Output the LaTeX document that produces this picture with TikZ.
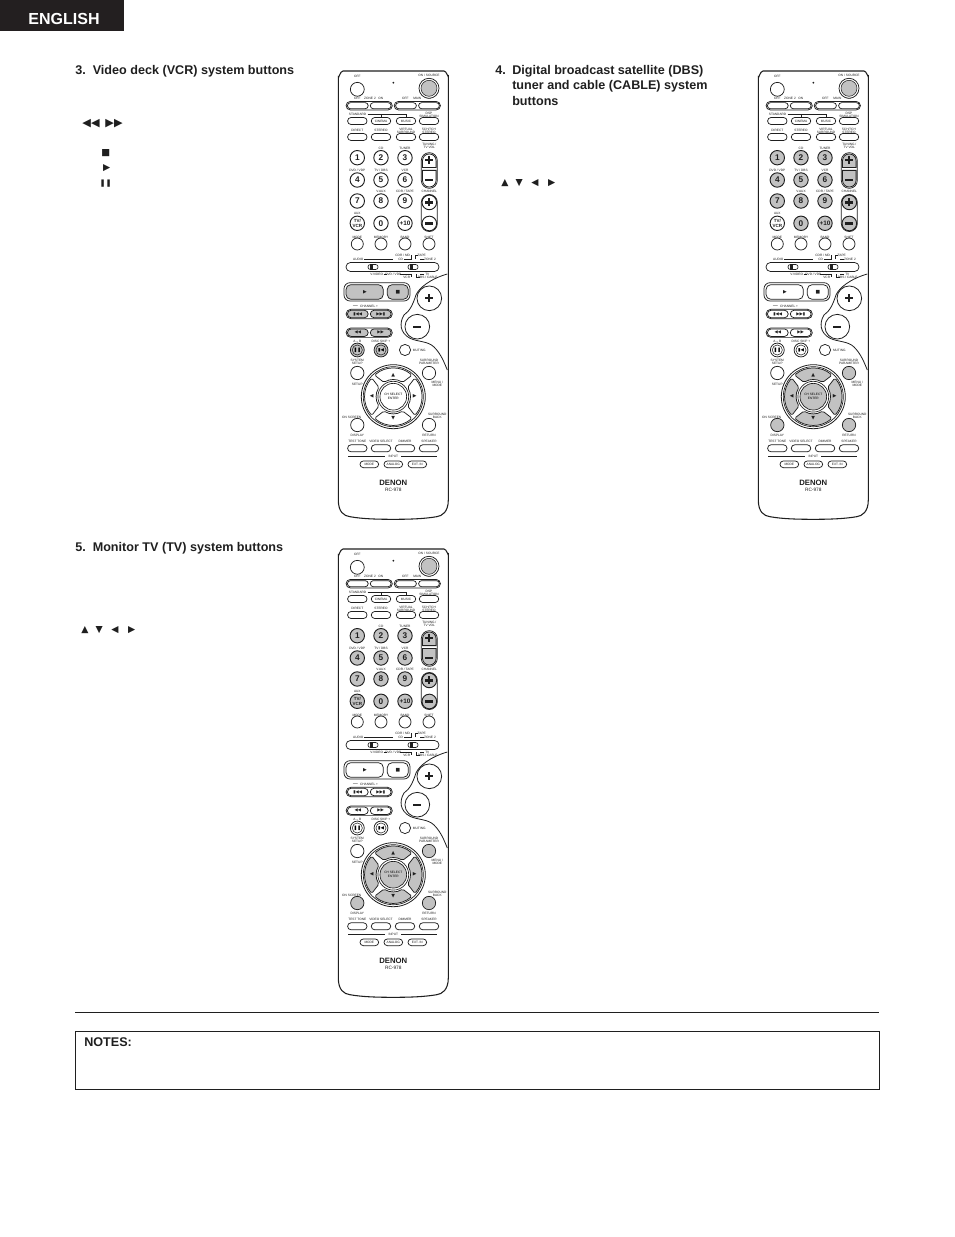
\documentclass[tikz,border=0pt]{standalone}
\usepackage{fontspec}
\setmainfont{Liberation Sans}
\newfontfamily\symfont{DejaVu Sans}
\usetikzlibrary{shapes.misc}
\newcommand{\tinylab}{\fontsize{2.4}{2.8}\selectfont}
\newcommand{\headfont}{\fontsize{9.45}{11.6}\selectfont\bfseries}
\colorlet{ink}{black!88}
\colorlet{shade}{black!24}
\definecolor{tabcol}{HTML}{231F20}
\tikzset{
    lab/.style={font=\tinylab,inner sep=0,text=ink},
    head/.style={font=\headfont,inner sep=0,anchor=base west,text=ink},
    glyph/.style={font=\symfont\fontsize{7}{7}\selectfont,inner sep=0,text=ink},
    mini/.style={font=\symfont\fontsize{3.6}{4}\selectfont,inner sep=0,text=ink},
    pill/.style={rounded rectangle,draw=ink,line width=.55pt,fill=white,inner sep=0,minimum width=14.6pt,minimum height=5.3pt,font=\tinylab,text=ink},
    keyb/.style={circle,draw=ink,line width=.7pt,fill=white,inner sep=0,minimum size=10.8pt,text=ink},
    knob/.style={circle,draw=ink,line width=.55pt,fill=white,inner sep=0,minimum size=10.4pt},
    sign/.style={line width=1.7pt,ink}
}
\newcommand{\remote}[3]{
    \begin{scope}[shift={(#2,#3)},name prefix=#1-]
        \draw[ink,line width=.8pt,fill=white] (0.3,6) to[out=-90,in=180] (5,0) -- (106,0) to[out=0,in=-90] (110.3,5)
            -- (110.3,429) .. controls (110.3,441) and (104,445) .. (98.7,445.7)
            .. controls (85,448) and (70,448.3) .. (55.3,448.3)
            .. controls (40,448.3) and (25,448) .. (12,445.7)
            .. controls (6,445) and (0.3,441) .. (0.3,429) -- cycle;
        \draw[ink,line width=.6pt] (109.3,203) .. controls (92,208) and (81,217) .. (78,224)
            .. controls (75,233) and (72,240) .. (66,244)
            .. controls (61,252) and (62,262) .. (72,267.3)
            .. controls (80,271) and (90,270) .. (96,276)
            .. controls (103,283) and (106,291) .. (109.3,299);
        \foreach \lx/\ly/\lt [count=\li] in {
            19.3/5.7/OFF,91/4.7/{ON / SOURCE},
            19.3/27.3/OFF,32/27.3/ZONE 2,42.7/27.3/ON,67.3/27.3/OFF,79.3/27.3/MAIN,91/27.3/ON,
            91/42.7/DSP,91/45.7/SIMULATION,
            19.3/59.7/DIRECT,43/59.7/STEREO,68/58.3/VIRTUAL,68/61/SURROUND,91/58.3/{5CH/7CH},91/61/STEREO,
            43/77.3/CD,67/77.3/TUNER,91.3/73/{TUNING /},91.3/76.3/TV VOL,
            19.3/99.3/{DVD / VDP},43/99.3/{TV / DBS},67/99.3/VCR,
            43/120.7/V.AUX,67/120.7/{CDR / TAPE},91.3/120.7/CHANNEL,19.3/142.7/AUX,
            19.3/166/MODE,43/166/MEMORY,67/166/BAND,91/166/SHIFT,
            64.7/184/{CDR / MD},62.7/188/CD,83.7/184.3/TAPE,92/188/ZONE 2,
            38.7/203/V.VIDEO,55.3/203/{DVD / VDP},68.7/206.3/VCR,89.3/203/TV,89.7/206.3/{DBS / CABLE},
            27/234.7/{$-$ CHANNEL +},
            19.3/270.7/A -- B,43/270.7/DISC SKIP +,81.3/279/MUTING,
            19.3/289/SYSTEM,19.3/292.3/SETUP,19.3/313/SETUP,
            91/289/SURROUND,91/292.3/PARAMETER,99.3/311/{MENU /},99.3/314.5/MODE,
            13.7/346/ON SCREEN,19.3/364/DISPLAY,
            99.3/343/SURROUND,99.3/346.5/BACK,91/364/RETURN,
            19.3/370/TEST TONE,43/370/VIDEO SELECT,67/370/DIMMER,91/370/SPEAKER,
            55.3/385.7/INPUT%
        }{
            \node[lab] (lab\li) at (\lx,\ly) {\lt};
        }
        \node[lab] (std) at (19.6,43.7) {STANDARD};
        \draw[ink,line width=.5pt] (std.east) ++(1,0) -| (68,47);
        \draw[ink,line width=.5pt] (43,43.7) -- (43,47);
        \node[lab] (audio) at (20.3,188) {AUDIO};
        \draw[ink,line width=.4pt] (26.3,188.3) -- (55.3,188.3) (66,188.3) -- (73.7,188.3) -- (73.7,184.3)
            (77.7,188.3) -- (77.7,184.3) -- (79.5,184.3) (82,188.3) -- (86.3,188.3)
            (45.5,203) -- (49,203) (62,203) -- (73.7,203) -- (73.7,206.3)
            (78,203) -- (78,206.3) -- (82,206.3) (82,203) -- (86.3,203);
        \draw[ink,line width=.5pt] (10,385.7) -- (47,385.7) (63,385.7) -- (99,385.7);
        \node[knob] (off) at (19.3,18.3) {};
        \fill[ink] (55.3,11.7) circle[radius=1];
        \node[circle,draw=ink,line width=.55pt,fill=white,minimum size=15pt,inner sep=0] (srcring) at (91,17.3) {};
        \node[circle,draw=ink,line width=.4pt,fill=shade,minimum size=12pt,inner sep=0] (src) at (91,17.3) {};
        \foreach \gx in {31.2,79.3} {
            \node[pill,minimum width=34.7pt,minimum height=6.4pt] at (\gx,34.7) {};
        }
        \foreach \bx/\bn in {19.8/a,42.7/b,68/c,91/d} {
            \node[pill,minimum width=15.6pt,minimum height=4.6pt] (zone\bn) at (\bx,34.7) {};
        }
        \node[pill] (stand) at (19.3,50) {};
        \node[pill] (cinema) at (43,50) {CINEMA};
        \node[pill] (music) at (68,50) {MUSIC};
        \node[pill] (dsp) at (91,50) {};
        \foreach \bx/\bn in {19.3/direct,43/stereo,68/virt,91/ster} {
            \node[pill] (\bn) at (\bx,66) {};
        }
        \foreach \bx/\by/\bt in {19.3/86.7/1,43/86.7/2,67/86.7/3,19.3/109/4,43/109/5,67/109/6,19.3/130/7,43/130/8,67/130/9,43/152.3/0} {
            \node[keyb,fill=numb,font=\fontsize{6.2}{7}\selectfont\bfseries] (num\bt) at (\bx,\by) {\bt};
        }
        \node[keyb,fill=numb,font=\fontsize{4.8}{6}\selectfont\bfseries] (numten) at (67,152.3) {+10};
        \node[keyb,fill=tvb,align=center,font=\fontsize{3.4}{3.8}\selectfont\bfseries] (tvvcr) at (19.3,152.3) {TV/\\VCR};
        \draw[ink,line width=.55pt,fill=white,rounded corners=5.9pt] (83.3,81.7) rectangle (99.3,117.3);
        \draw[ink,line width=.6pt,fill=rock] (84.5,96.6) [rounded corners=5pt] -- (84.5,83) -- (98.1,83) [sharp corners] -- (98.1,96.6) -- cycle;
        \draw[ink,line width=.6pt,fill=rock] (84.5,99.4) [rounded corners=5pt] -- (84.5,116) -- (98.1,116) [sharp corners] -- (98.1,99.4) -- cycle;
        \draw[ink,line width=.55pt,fill=white,rounded corners=5.9pt] (83.3,123.5) rectangle (99.3,160.5);
        \node[keyb,fill=rock,minimum size=11pt] (chup) at (91.3,131.4) {};
        \node[keyb,fill=rock,minimum size=11pt] (chdn) at (91.3,152.5) {};
        \foreach \bx/\bn in {19.3/mode,43/memory,67/band,91/shift} {
            \node[circle,draw=ink,line width=.55pt,fill=white,minimum size=9pt,inner sep=0] (\bn) at (\bx,173) {};
        }
        \node[pill,minimum width=69.8pt,minimum height=6.8pt] (slide) at (54.5,196) {};
        \foreach \bx/\bn in {35/sla,75/slb} {
            \node[rounded rectangle,draw=ink,line width=.5pt,fill=white,minimum width=7.6pt,minimum height=3.8pt,inner sep=0] (\bn) at (\bx,196) {};
            \fill[ink] (\bx-3,194.3) rectangle (\bx,197.7);
        }
        \draw[ink,line width=.55pt,fill=white,rounded corners=4.5pt] (6,211.7) rectangle (72,230);
        \draw[ink,line width=.55pt,fill=trans,rounded corners=3.6pt] (8,213.7) rectangle (45.3,228.3);
        \draw[ink,line width=.55pt,fill=trans,rounded corners=3.6pt] (49.3,213.7) rectangle (70.3,228.3);
        \node[mini] (play) at (27,221) {▶};
        \node[mini] (stop) at (59.8,221) {■};
        \node[circle,draw=ink,line width=.6pt,fill=white,minimum size=18.5pt,inner sep=0] (up) at (91.3,227.3) {};
        \node[circle,draw=ink,line width=.6pt,fill=white,minimum size=18.5pt,inner sep=0] (down) at (79.3,255.7) {};
        \foreach \rowy/\ltx/\rtx [count=\ri] in {243/▮◀◀/▶▶▮,261.7/◀◀/▶▶} {
            \node[pill,minimum width=34.7pt,minimum height=7pt] (row\ri) at (31.2,\rowy) {};
            \node[pill,fill=trans,minimum width=15.6pt,minimum height=5.6pt,font=\symfont\fontsize{3.2}{4}\selectfont] (left\ri) at (19.8,\rowy) {\ltx};
            \node[pill,fill=trans,minimum width=15.6pt,minimum height=5.6pt,font=\symfont\fontsize{3.2}{4}\selectfont] (right\ri) at (42.7,\rowy) {\rtx};
        }
        \node[knob,fill=trans] (pause) at (19.3,279) {};
        \node[circle,draw=ink,line width=.4pt,minimum size=7.6pt,inner sep=0,font=\symfont\fontsize{3.4}{4}\selectfont] (pausein) at (19.3,279) {❚❚};
        \node[knob,fill=trans] (skip) at (43,279) {};
        \node[circle,draw=ink,line width=.4pt,minimum size=7.6pt,inner sep=0,font=\symfont\fontsize{3.4}{4}\selectfont] (skipin) at (43,279) {▮◀};
        \node[circle,draw=ink,line width=.55pt,fill=white,minimum size=8.4pt,inner sep=0] (mute) at (67,279) {};
        \node[knob,minimum size=10pt] (setup) at (19.3,302) {};
        \node[knob,fill=menu,minimum size=10pt] (param) at (91,302) {};
        \node[knob,fill=menu,minimum size=10pt] (screen) at (19.3,354) {};
        \node[knob,fill=menu,minimum size=10pt] (back) at (91,354) {};
        \begin{scope}[shift={(55.3,325.7)}]
            \draw[ink,line width=.6pt,fill=white] (0,0) circle[radius=32];
            \draw[ink,line width=.5pt] (0,0) circle[radius=30];
            \foreach \a in {0,90,180,270} {
                \draw[ink,line width=.55pt,fill=dpad,rounded corners=1.2pt] (\a-41:28.5) arc (\a-41:\a+41:28.5) -- (\a+33:17) arc (\a+33:\a-33:17) -- cycle;
            }
            \draw[ink,line width=.5pt,fill=white] (0,0) circle[radius=15.4];
            \node[circle,draw=ink,line width=.5pt,fill=dcen,minimum size=20pt,inner sep=0,align=center,font=\tinylab] (enter) at (0,0) {CH SELECT\\ENTER};
            \node[mini] (tup) at (0,-21.5) {▲};
            \node[mini] (tdn) at (0,21.5) {▼};
            \node[mini] (tlf) at (-21.5,0) {◀};
            \node[mini] (trt) at (21.5,0) {▶};
        \end{scope}
        \foreach \bx/\bn in {19.3/tone,43/video,67/dim,91/speak} {
            \node[pill] (\bn) at (\bx,377.3) {};
        }
        \node[pill,minimum width=14pt,minimum height=5pt] (modeb) at (31.3,393.3) {MODE};
        \node[pill,minimum width=14pt,minimum height=5pt] (analog) at (55.3,393.3) {ANALOG};
        \node[pill,minimum width=14pt,minimum height=5pt] (extin) at (79.3,393.3) {EXT. IN};
        \node[lab,font=\fontsize{5.8}{7}\selectfont\bfseries] (denon) at (55.3,412.3) {DENON};
        \node[lab,font=\fontsize{3.6}{4}\selectfont] (model) at (55.3,419) {RC-978};
        \foreach \sx/\sy in {91.3/89,91.3/131.4,91.3/227.3} {
            \draw[sign] (\sx-4,\sy) -- (\sx+4,\sy) (\sx,\sy-4) -- (\sx,\sy+4);
        }
        \foreach \sx/\sy in {91.3/109,91.3/152.5,79.3/255.7} {
            \draw[sign] (\sx-4,\sy) -- (\sx+4,\sy);
        }
    \end{scope}
}
\begin{document}
\begin{tikzpicture}[x=.75pt,y=-.75pt]
    \useasboundingbox (0,0) rectangle (954,1237);
    \fill[tabcol] (0,0) rectangle (124,31);
    \node[inner sep=0,white,font=\fontsize{12}{14}\selectfont\bfseries] (english) at (64,19) {ENGLISH};

    \node[head] (numvcr) at (75,74.6) {3.};
    \node[head] (headvcr) at (92.5,74.6) {Video deck (VCR) system buttons};
    \node[head] (numdbs) at (495,74.6) {4.};
    \node[head] (headdbs) at (512,74.6) {Digital broadcast satellite (DBS)};
    \node[head] (headdbsb) at (512,90) {tuner and cable (CABLE) system};
    \node[head] (headdbsc) at (512,105.6) {buttons};
    \node[head] (numtv) at (75,551.6) {5.};
    \node[head] (headtv) at (92.5,551.6) {Monitor TV (TV) system buttons};

    \node[glyph,font=\symfont\fontsize{8.4}{9}\selectfont] (rew) at (91,124) {◀◀};
    \node[glyph,font=\symfont\fontsize{8.4}{9}\selectfont] (ffw) at (114,124) {▶▶};
    \node[glyph] (stopsym) at (105.7,153.3) {■};
    \node[glyph] (playsym) at (106.7,168.3) {▶};
    \node[glyph,font=\symfont\fontsize{5.5}{7}\selectfont] (pausesym) at (105.7,183.3) {❚❚};
    \foreach \gx/\gy/\gt/\gn in {505/183.3/▲/a,519.3/183.3/▼/b,535/183.3/◀/c,551.7/183.3/▶/d,85/630/▲/e,99.3/630/▼/f,115/630/◀/g,131.7/630/▶/h} {
        \node[glyph] (arrow\gn) at (\gx,\gy) {\gt};
    }

    \colorlet{numb}{white}\colorlet{tvb}{white}\colorlet{rock}{white}\colorlet{dpad}{white}\colorlet{dcen}{white}\colorlet{menu}{white}\colorlet{trans}{shade}
    \remote{vcr}{338}{71}
    \colorlet{numb}{shade}\colorlet{rock}{shade}\colorlet{dpad}{shade}\colorlet{dcen}{shade}\colorlet{menu}{shade}\colorlet{trans}{white}
    \remote{dbs}{758}{71}
    \colorlet{tvb}{shade}
    \remote{tv}{338}{549}

    \coordinate (ruleleft) at (75,1012);
    \coordinate (ruleright) at (879,1012);
    \draw[ink,line width=.65pt] (ruleleft) -- (ruleright);
    \draw[ink,line width=.65pt] (75.5,1031) rectangle (879,1089);
    \node[head] (notes) at (84,1046.2) {NOTES:};
\end{tikzpicture}
\end{document}
